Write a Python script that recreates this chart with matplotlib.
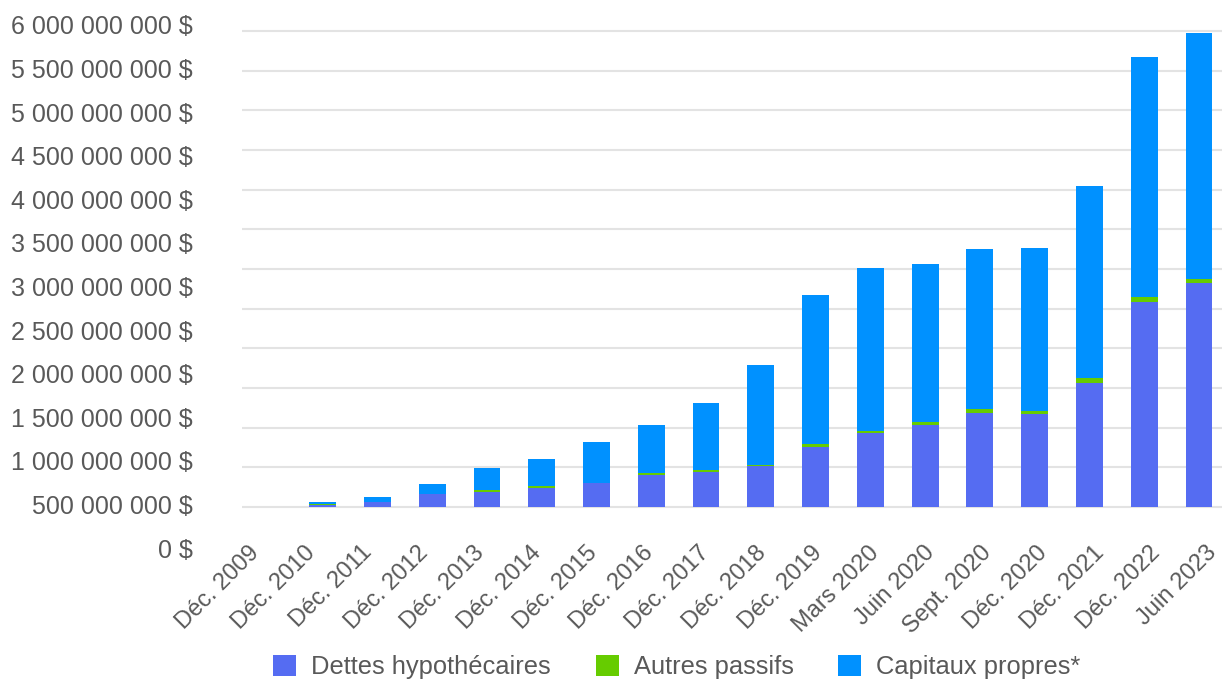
import matplotlib.pyplot as plt
from matplotlib.ticker import FuncFormatter, MultipleLocator

periodes = ["Déc. 2009", "Déc. 2010", "Déc. 2011", "Déc. 2012", "Déc. 2013",
            "Déc. 2014", "Déc. 2015", "Déc. 2016", "Déc. 2017", "Déc. 2018",
            "Déc. 2019", "Mars 2020", "Juin 2020", "Sept. 2020", "Déc. 2020",
            "Déc. 2021", "Déc. 2022", "Juin 2023"]

# montants en dollars
dettes = [0, 30e6, 65e6, 165e6, 190e6, 240e6, 303e6, 403e6, 441e6, 517e6,
          756e6, 933e6, 1034e6, 1185e6, 1172e6, 1563e6, 2584e6, 2824e6]
autres = [0, 2e6, 3e6, 5e6, 20e6, 20e6, 3e6, 20e6, 20e6, 15e6,
          38e6, 20e6, 38e6, 50e6, 44e6, 63e6, 63e6, 44e6]
capitaux = [0, 25e6, 58e6, 120e6, 282e6, 345e6, 514e6, 611e6, 850e6, 1258e6,
            1878e6, 2060e6, 1991e6, 2017e6, 2049e6, 2420e6, 3025e6, 3107e6]

series = ["Dettes hypothécaires", "Autres passifs", "Capitaux propres*"]
couleurs = ["#556cf2", "#66cc00", "#0091ff"]
GRIS = "#595959"
TAILLE = 18

plt.rcParams["font.family"] = ["Liberation Sans", "DejaVu Sans"]

W, H = 1224, 679
fig = plt.figure(figsize=(W / 100, H / 100), dpi=100)


def zone(x0, y0, x1, y1):
    # rectangle en pixels (origine en haut à gauche) -> coordonnées figure
    return [x0 / W, 1 - y1 / H, (x1 - x0) / W, (y1 - y0) / H]


def dollars(v, pos=None):
    return f"{v:,.0f}".replace(",", " ") + " $"


# axe des étiquettes (espacement propre, indépendant de la grille)
ax_lab = fig.add_axes(zone(193, 25, 1220, 548))
ax_lab.patch.set_visible(False)
for s in ax_lab.spines.values():
    s.set_visible(False)
ax_lab.set_ylim(0, 6e9)
ax_lab.yaxis.set_major_locator(MultipleLocator(5e8))
ax_lab.yaxis.set_major_formatter(FuncFormatter(dollars))
x0_lab, pas_lab = 256, 56.3
ax_lab.set_xlim(-(x0_lab - 193) / pas_lab, (1220 - x0_lab) / pas_lab)
ax_lab.set_xticks(range(len(periodes)))
ax_lab.set_xticklabels(periodes, rotation=45, ha="right", va="center",
                       rotation_mode="anchor")
ax_lab.tick_params(axis="both", length=0, labelsize=TAILLE, labelcolor=GRIS)
ax_lab.tick_params(axis="x", pad=1, labelsize=17)
ax_lab.tick_params(axis="y", pad=0)

# axe des barres
px = 6e9 / 476
ax = fig.add_axes(zone(242, 29, 1222, 509))
ax.patch.set_visible(False)
for s in ax.spines.values():
    s.set_visible(False)
ax.set_ylim(-2 * px, 6e9 + 2 * px)
ax.set_yticks([i * 5e8 for i in range(13)])
pas_barres = 54.76
ax.set_xlim((242 - 268) / pas_barres, (1222 - 268) / pas_barres)
ax.set_xticks([])
ax.tick_params(axis="y", length=0, labelleft=False)
ax.yaxis.grid(True, color="#e3e3e3", linewidth=1.5)
ax.set_axisbelow(True)

x = range(len(periodes))
bas = [0] * len(periodes)
handles = []
for valeurs, nom, coul in zip([dettes, autres, capitaux], series, couleurs):
    b = ax.bar(x, valeurs, width=0.49, bottom=bas, color=coul, linewidth=0,
               label=nom, zorder=2)
    handles.append(b)
    bas = [a + v for a, v in zip(bas, valeurs)]

fig.legend(handles, series, loc="center", bbox_to_anchor=(0.553, 1 - 667 / H),
           ncol=3, frameon=False, fontsize=18.4, labelcolor=GRIS,
           handlelength=0.9, handleheight=0.9, handletextpad=0.59,
           columnspacing=1.75, borderpad=0)

fig.savefig("out.png", dpi=100)
